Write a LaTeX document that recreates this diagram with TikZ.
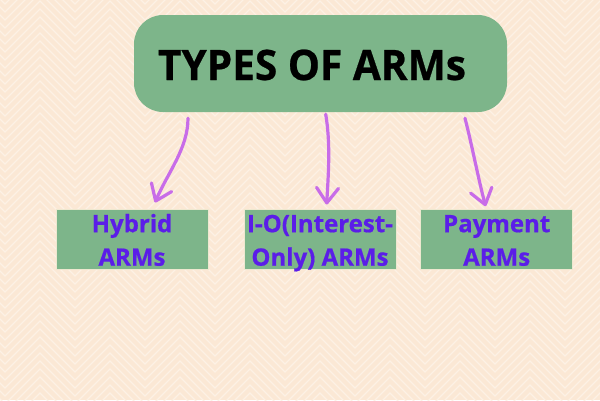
\documentclass[tikz,border=0pt]{standalone}
\usepackage{fontspec}
\setmainfont{Open Sans}[BoldFeatures={FakeBold=0.6}]
\usetikzlibrary{arrows.meta}
\definecolor{bgc}{HTML}{FBE8D5}
\definecolor{chevc}{HTML}{FDF1E5}
\definecolor{boxg}{HTML}{7DB58A}
\definecolor{txtp}{HTML}{5B1DE8}
\definecolor{arrc}{HTML}{C86CE8}
\definecolor{edgec}{HTML}{EEE8D0}
\newcommand{\twolines}[2]{\raisebox{0pt}[53.4pt][0pt]{\begin{tabular}[b]{@{}c@{}}#1\\#2\end{tabular}}}
\tikzset{
  chev/.style={draw=chevc, line width=1.2pt},
  titlebox/.style={fill=boxg, rounded corners=29pt, minimum width=373pt, minimum height=97pt,
    inner sep=0pt, text height=33pt, text depth=0pt, font=\fontsize{42}{42}\selectfont\bfseries},
  subbox/.style={fill=boxg, draw=edgec, line width=1pt, minimum width=152pt, minimum height=60pt,
    inner sep=0pt, text=txtp, font=\fontsize{24}{33.5}\selectfont\bfseries},
  arr/.style={draw=arrc, line width=3.2pt, line cap=round,
    -{Straight Barb[length=15pt,width=22pt,line cap=round,line join=round]}}
}
\begin{document}
\begin{tikzpicture}[x=1pt,y=-1pt]
\useasboundingbox (0,0) rectangle (600,400);
\fill[bgc] (0,0) rectangle (600,400);
\begin{scope}
\clip (0,0) rectangle (600,400);
\foreach \k in {0,...,56} {
  \draw[chev] (-65,{\k*8-20}) \foreach \j in {0,...,10} { -- ++(35,-35) -- ++(35,35) };
}
\end{scope}
\node[titlebox] (title) at (320.5,63.5) {\hspace*{-17pt}\resizebox{308pt}{\height}{TYPES OF ARMs}};
\node[subbox] (hyb) at (132,239) {\twolines{Hybrid}{ARMs}};
\node[subbox] (io) at (320,239) {\twolines{I-O(Interest-}{Only) ARMs}};
\node[subbox] (pay) at (496.7,239) {\twolines{Payment}{ARMs}};
\draw[arr] ([xshift=-132.5pt,yshift=-6pt]title.south) .. controls ([xshift=-132.5pt,yshift=-36pt]title.south) and ([xshift=-152.5pt,yshift=-60pt]title.south) .. ([xshift=23pt,yshift=6pt]hyb.north);
\draw[arr] ([xshift=5.2pt,yshift=-2pt]title.south) .. controls ([xshift=10.5pt,yshift=-33pt]title.south) and ([xshift=7.5pt,yshift=-66pt]title.south) .. ([xshift=6.7pt,yshift=4pt]io.north);
\draw[arr] ([xshift=144.5pt,yshift=-6pt]title.south) .. controls ([xshift=151.5pt,yshift=-33pt]title.south) and ([xshift=158.5pt,yshift=-70pt]title.south) .. ([xshift=-11pt,yshift=2.3pt]pay.north);
\end{tikzpicture}
\end{document}
